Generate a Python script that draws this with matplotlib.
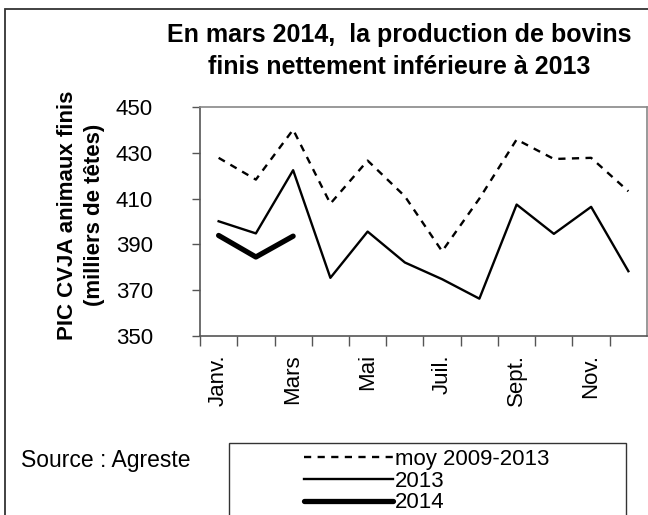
import matplotlib
matplotlib.use('Agg')
import matplotlib.pyplot as plt
from matplotlib.patches import Rectangle

plt.rcParams['font.family'] = ['Liberation Sans', 'DejaVu Sans']

# mois (une valeur par mois)
months = ['Janv.', 'Févr.', 'Mars', 'Avr.', 'Mai', 'Juin',
          'Juil.', 'Août', 'Sept.', 'Oct.', 'Nov.', 'Déc.']
shown_labels = ['Janv.', '', 'Mars', '', 'Mai', '', 'Juil.', '', 'Sept.', '', 'Nov.', '']

# milliers de têtes
moy_2009_2013 = [427.8, 418.3, 440.1, 407.8, 426.6, 411.0,
                 387.0, 410.0, 435.8, 427.3, 427.8, 413.2]
y2013 = [400.1, 394.8, 422.4, 375.4, 395.6, 382.1,
         374.8, 366.3, 407.4, 394.6, 406.4, 378.3]
y2014 = [393.9, 384.5, 393.6]

W, H = 648, 515
fig = plt.figure(figsize=(W / 100, H / 100), dpi=100)

# cadre du graphique
fig.patches.append(Rectangle((5 / W, -0.05), 1.2, (H - 9) / H + 0.05,
                             transform=fig.transFigure, fill=False,
                             edgecolor='#333333', linewidth=1.3))

ax = fig.add_axes([200 / W, (H - 336) / H, 447 / W, 229 / H])
x = list(range(len(months)))

l1, = ax.plot(x, moy_2009_2013, color='black', linewidth=1.7,
              linestyle=(0, (3.05, 2.71)))
l2, = ax.plot(x, y2013, color='black', linewidth=1.7)
l3, = ax.plot(x[:len(y2014)], y2014, color='black', linewidth=3.8,
              solid_capstyle='round')

ax.set_xlim(-0.5, 11.5)
ax.set_ylim(350, 450)
ax.set_yticks([350, 370, 390, 410, 430, 450])
ax.set_xticks([i - 0.5 for i in range(12)])
ax.set_xticklabels([])
ax.set_xticks(x, minor=True)
ax.set_xticklabels(shown_labels, minor=True, rotation=90)
ax.tick_params(axis='x', which='major', direction='out', length=7,
               width=1, color='#555555')
ax.tick_params(axis='x', which='minor', length=0, pad=13, labelsize=16)
ax.tick_params(axis='y', direction='out', length=6, width=1,
               color='#555555', pad=28, labelsize=16)
for s in ['left', 'bottom']:
    ax.spines[s].set_color('#555555')
    ax.spines[s].set_linewidth(1.2)
for s in ['top', 'right']:
    ax.spines[s].set_color('#888888')
    ax.spines[s].set_linewidth(1.2)

fig.text(399 / W, (H - 51) / H,
         'En mars 2014,  la production de bovins\nfinis nettement inférieure à 2013',
         ha='center', va='center', fontsize=18, fontweight='bold',
         linespacing=1.42)

fig.text(81 / W, (H - 215) / H,
         'PIC CVJA animaux finis\n(milliers de têtes)',
         ha='center', va='center', rotation=90, fontsize=16,
         fontweight='bold', multialignment='center', linespacing=1.4)

fig.text(21 / W, (H - 461) / H, 'Source : Agreste', ha='left',
         va='center', fontsize=16.5)

fig.patches.append(Rectangle((229 / W, -0.05), 397 / W, (H - 443) / H + 0.05,
                             transform=fig.transFigure, fill=False,
                             edgecolor='#333333', linewidth=1))
fig.legend([l1, l2, l3], ['moy 2009-2013', '2013', '2014'],
           loc='upper center', bbox_to_anchor=(427 / W, (H - 449) / H),
           frameon=False, fontsize=16, handlelength=4.0, handletextpad=0.1,
           labelspacing=0.03, borderpad=0, borderaxespad=0)

fig.savefig('out.png', dpi=100)
